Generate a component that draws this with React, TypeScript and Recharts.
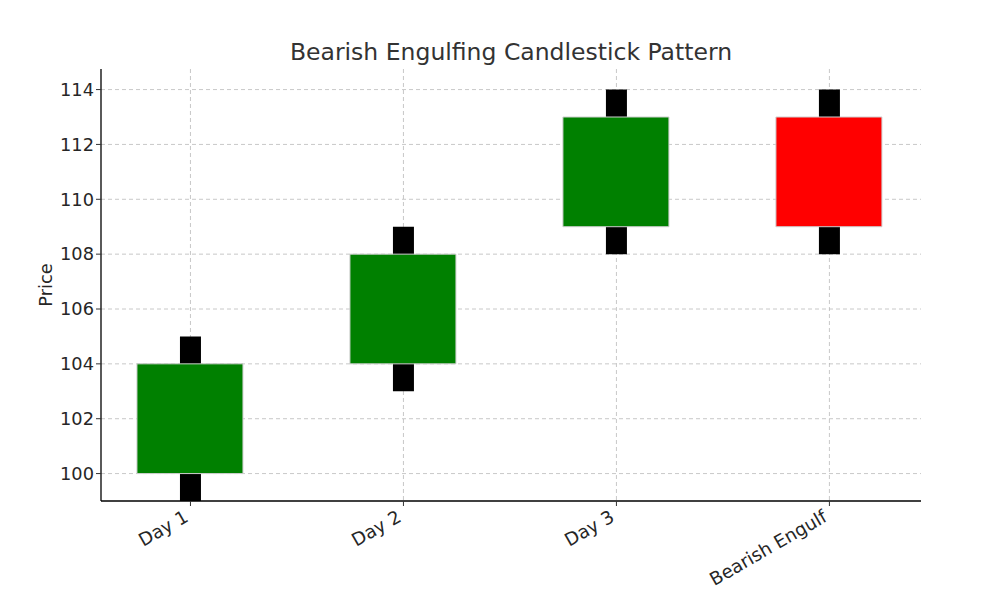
import { ComposedChart, Bar, XAxis, YAxis, CartesianGrid, Cell } from 'recharts';

const days = ['Day 1', 'Day 2', 'Day 3', 'Bearish Engulf'];
const opens = [100, 104, 109, 113];
const closes = [104, 108, 113, 109];
const highs = [105, 109, 114, 114];
const lows = [99, 103, 108, 108];

const yTicks = [100, 102, 104, 106, 108, 110, 112, 114];
const xTicks = [0, 1, 2, 3];

const data = days.map((name, i) => ({
  idx: i,
  name,
  wick: [lows[i], highs[i]],
  body: [Math.min(opens[i], closes[i]), Math.max(opens[i], closes[i])],
  up: closes[i] >= opens[i],
}));

const FONT = '"DejaVu Sans", sans-serif';
const TEXT = '#262626';
const FS = 17.8;

function XTick(props: any) {
  const { x, y, payload } = props;
  return (
    <g transform={`translate(${x - 7},${y + 2})`}>
      <text
        transform="rotate(-30)"
        textAnchor="end"
        dy={12}
        fontSize={18.2}
        fontFamily={FONT}
        fill={TEXT}
      >
        {days[payload.value]}
      </text>
    </g>
  );
}

export default function App() {
  return (
    <div style={{ position: 'absolute', left: 0, top: 0, width: 1002, height: 612, background: '#fff', fontFamily: FONT }}>
      <div
        style={{
          position: 'absolute',
          left: 101,
          width: 820,
          top: 38,
          textAlign: 'center',
          fontSize: 23.5,
          lineHeight: '28px',
          color: '#333',
          fontFamily: FONT,
        }}
      >
        Bearish Engulfing Candlestick Pattern
      </div>
      <ComposedChart width={1002} height={612} data={data} margin={{ top: 69, right: 81, bottom: 0, left: 0 }}>
        <XAxis
          xAxisId="main"
          dataKey="idx"
          type="number"
          domain={[-0.42, 3.43]}
          ticks={xTicks}
          allowDataOverflow
          axisLine={{ stroke: '#000', strokeWidth: 1.3 }}
          tickLine={{ stroke: '#333' }}
          tickSize={5}
          height={111}
          tick={<XTick />}
        />
        <XAxis xAxisId="wickAxis" dataKey="idx" type="number" domain={[-0.42, 3.43]} allowDataOverflow hide />
        <YAxis
          domain={[99, 114.75]}
          ticks={yTicks}
          allowDataOverflow
          width={101}
          axisLine={{ stroke: '#000', strokeWidth: 1.3 }}
          tickLine={{ stroke: '#333' }}
          tickSize={5}
          tick={{ fontSize: FS, fontFamily: FONT, fill: TEXT }}
          label={{
            value: 'Price',
            angle: -90,
            position: 'insideLeft',
            dx: 41,
            style: { fontSize: FS, fontFamily: FONT, fill: TEXT, textAnchor: 'middle' },
          }}
        />
        <Bar xAxisId="wickAxis" dataKey="wick" barSize={21} fill="#000" isAnimationActive={false} />
        <Bar xAxisId="main" dataKey="body" barSize={106} stroke="#cfcfcf" strokeWidth={1} isAnimationActive={false}>
          {data.map((d, i) => (
            <Cell key={i} fill={d.up ? '#008000' : '#ff0000'} />
          ))}
        </Bar>
        <CartesianGrid
          xAxisId="main"
          horizontalValues={yTicks}
          verticalValues={xTicks}
          stroke="#b0b0b0"
          strokeOpacity={0.7}
          strokeDasharray="4 3"
        />
      </ComposedChart>
    </div>
  );
}
